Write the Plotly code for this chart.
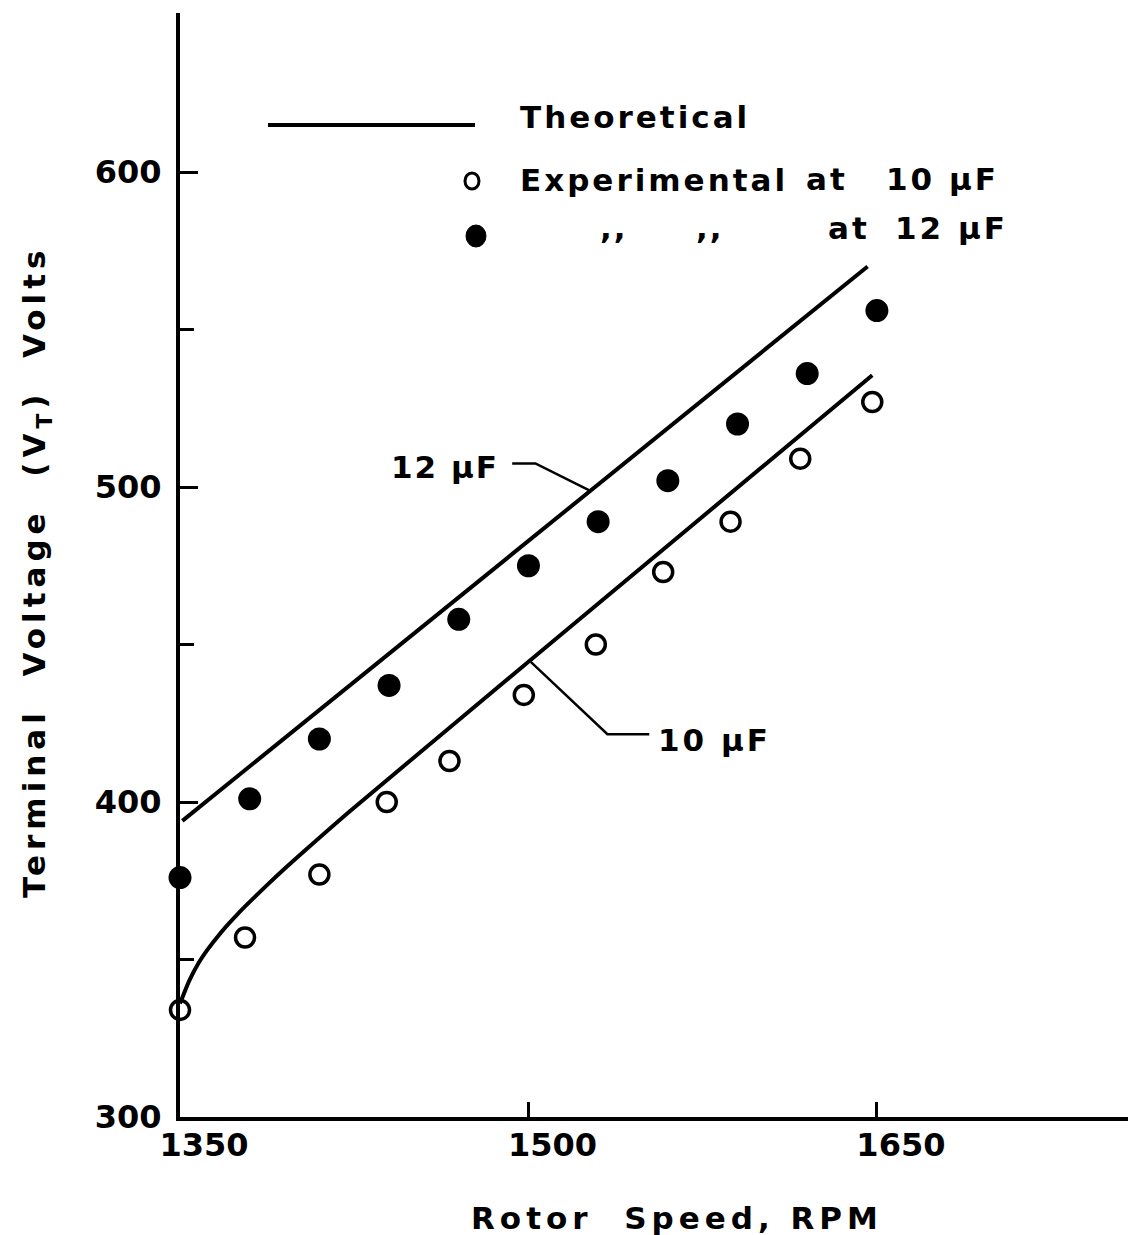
import plotly.graph_objects as go

# ---------------- data ----------------
rpm_10uf_exp = [1350, 1378, 1410, 1439, 1466, 1498, 1529, 1558, 1587, 1617, 1648]
vt_10uf_exp = [334, 357, 377, 400, 413, 434, 450, 473, 489, 509, 527]

rpm_12uf_exp = [1350, 1380, 1410, 1440, 1470, 1500, 1530, 1560, 1590, 1620, 1650]
vt_12uf_exp = [376, 401, 420, 437, 458, 475, 489, 502, 520, 536, 556]

rpm_10uf_th = [1350, 1354, 1358, 1362, 1366, 1370, 1375, 1380, 1387, 1395, 1405, 1423, 1500, 1648]
vt_10uf_th = [336, 343.3, 348.9, 353.3, 357.1, 360.6, 364.6, 368.3, 373.3, 378.8, 385.4, 397, 444.5, 535.5]

rpm_12uf_th = [1351, 1646]
vt_12uf_th = [394, 570]

x_tick_vals = [1350, 1500, 1650]
x_tick_text = ["1350", "1500", "1650"]
y_tick_vals = [300, 400, 500, 600]
y_tick_text = ["300", "400", "500", "600"]
y_minor_vals = [350, 450, 550]

# leader lines for the curve labels (data units)
lead12_x = [1493, 1503, 1526]
lead12_y = [507.5, 507.5, 499]
lead10_x = [1501, 1534, 1552]
lead10_y = [444.5, 421.5, 421.5]

# ---------------- layout geometry ----------------
OFF = 8                       # default page (body) margin of the html page
SW, SH = 1136, 1235           # screen size
W, H = SW - OFF, SH - OFF
ML, MR, MT, MB = 180 - OFF, 0, 13 - OFF, 118
PW, PH = W - ML - MR, H - MT - MB
FONT = "DejaVu Sans"


def px(xs):
    """screen x pixel -> paper x"""
    return (xs - OFF - ML) / PW


def py(ys):
    """screen y pixel -> paper y"""
    return (H - MB - (ys - OFF)) / PH


def sp(text, ls):
    return f'<span style="letter-spacing:{ls}px">{text}</span>'


fig = go.Figure()

fig.add_trace(go.Scatter(x=rpm_12uf_th, y=vt_12uf_th, mode="lines",
                         line=dict(color="black", width=4), showlegend=False))
fig.add_trace(go.Scatter(x=rpm_10uf_th, y=vt_10uf_th, mode="lines",
                         line=dict(color="black", width=4, shape="spline", smoothing=0.6),
                         showlegend=False))
fig.add_trace(go.Scatter(x=rpm_10uf_exp, y=vt_10uf_exp, mode="markers",
                         marker=dict(symbol="circle-open", size=19, color="black",
                                     line=dict(width=3.5, color="black")),
                         showlegend=False, cliponaxis=False))
fig.add_trace(go.Scatter(x=rpm_12uf_exp, y=vt_12uf_exp, mode="markers",
                         marker=dict(symbol="circle", size=23, color="black"),
                         showlegend=False, cliponaxis=False))

# leader lines
fig.add_trace(go.Scatter(x=lead12_x, y=lead12_y, mode="lines",
                         line=dict(color="black", width=2.5), showlegend=False))
fig.add_trace(go.Scatter(x=lead10_x, y=lead10_y, mode="lines",
                         line=dict(color="black", width=2.5), showlegend=False))

shapes = []
# legend line sample
shapes.append(dict(type="line", xref="paper", yref="paper",
                   x0=px(268), x1=px(475), y0=py(125), y1=py(125),
                   line=dict(color="black", width=4)))
# legend open circle
shapes.append(dict(type="circle", xref="paper", yref="paper",
                   xsizemode="pixel", ysizemode="pixel",
                   xanchor=px(472), yanchor=py(181),
                   x0=-7, x1=7, y0=-8, y1=8,
                   line=dict(color="black", width=3)))
# legend filled circle
shapes.append(dict(type="circle", xref="paper", yref="paper",
                   xsizemode="pixel", ysizemode="pixel",
                   xanchor=px(476), yanchor=py(236),
                   x0=-10, x1=10, y0=-11, y1=11,
                   fillcolor="black", line=dict(color="black", width=1)))

ann = []


def add_text(text, xs, ys, size=31, xanchor="left", angle=0):
    ann.append(dict(text="<b>" + text + "</b>", x=px(xs), y=py(ys), xref="paper", yref="paper",
                    xanchor=xanchor, yanchor="middle", showarrow=False,
                    textangle=angle,
                    font=dict(family=FONT, size=size, color="black")))


add_text(sp("Theoretical", 3), 518, 117)
add_text(sp("Experimental", 3), 518, 180)
add_text(sp("at", 3), 804, 179)
add_text(sp("10 µF", 3), 884, 179)
add_text(sp(",,", 2), 598, 228)
add_text(sp(",,", 2), 694, 228)
add_text(sp("at", 3), 826, 228)
add_text(sp("12 µF", 3), 893, 228)

add_text(sp("12 µF", 2), 445, 467, xanchor="center")
add_text(sp("10 µF", 3), 714, 740, xanchor="center")

add_text(sp("Rotor&nbsp;&nbsp;Speed,&nbsp;RPM", 5), 677, 1218, size=31, xanchor="center")
add_text(sp("Terminal&nbsp;&nbsp;Voltage&nbsp;&nbsp;(V<sub>T</sub>)&nbsp;&nbsp;Volts", 5), 36, 572,
         size=31, xanchor="center", angle=-90)

fig.update_layout(
    width=W, height=H,
    margin=dict(l=ML, r=MR, t=MT, b=MB),
    paper_bgcolor="white", plot_bgcolor="white",
    showlegend=False,
    shapes=shapes, annotations=ann,
    font=dict(family=FONT, color="black"),
    xaxis=dict(range=[1350, 1350 + PW / 2.323], showgrid=False, zeroline=False,
               showline=True, linewidth=4, linecolor="black", mirror=False,
               tickmode="array", tickvals=x_tick_vals, ticktext=x_tick_text,
               ticks="inside", ticklen=15, tickwidth=3, tickcolor="black",
               ticklabelshift=24, ticklabelstandoff=-3,
               tickfont=dict(family=FONT, size=32, color="black", weight="bold")),
    yaxis=dict(range=[300, 300 + PH / 3.15], showgrid=False, zeroline=False,
               showline=True, linewidth=4, linecolor="black", mirror=False,
               tickmode="array", tickvals=y_tick_vals, ticktext=y_tick_text,
               ticks="inside", ticklen=18, tickwidth=3, tickcolor="black",
               ticklabelstandoff=8,
               minor=dict(tickmode="array", tickvals=y_minor_vals, ticks="inside",
                          ticklen=14, tickwidth=3, tickcolor="black", showgrid=False),
               tickfont=dict(family=FONT, size=32, color="black", weight="bold")),
)

fig.write_html("out.html")
